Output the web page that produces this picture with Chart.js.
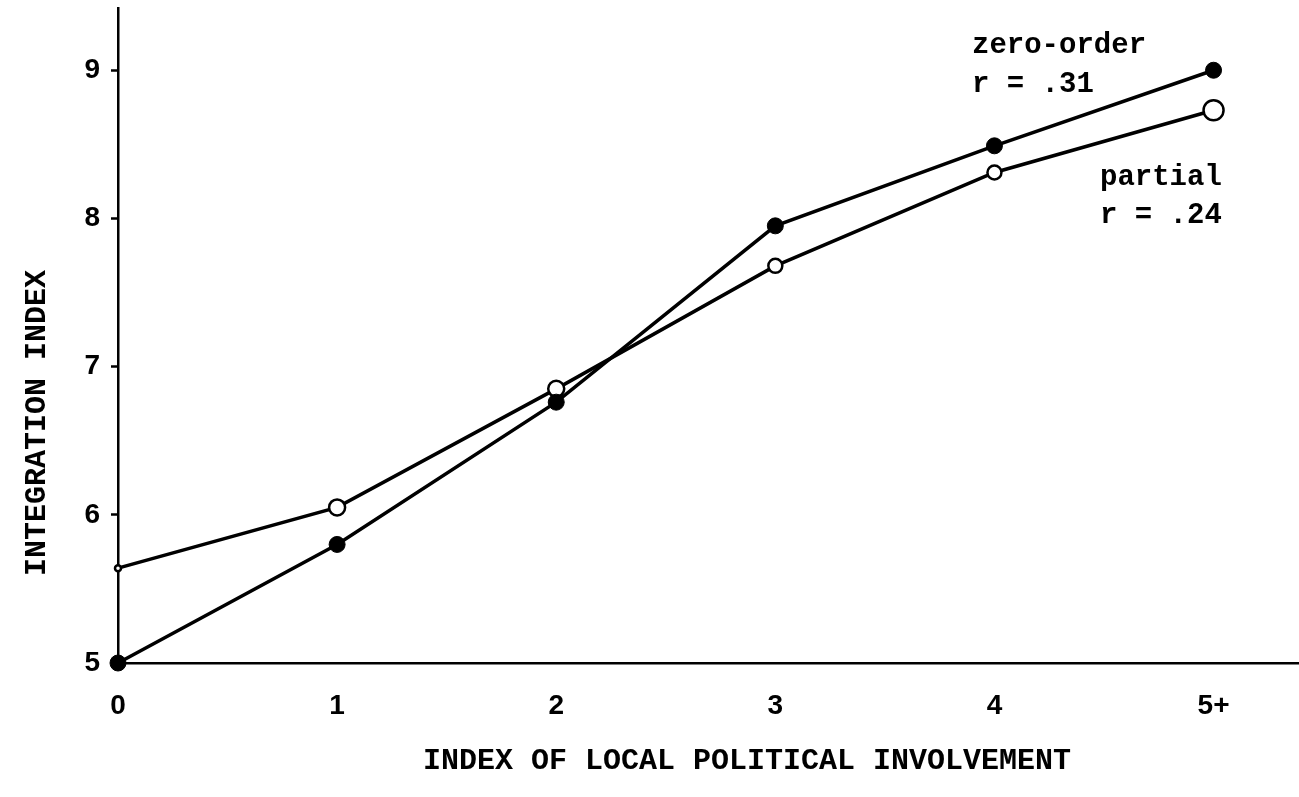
<!DOCTYPE html>
<html>
<head>
<meta charset="utf-8">
<script src="https://cdn.jsdelivr.net/npm/chart.js@4.4.1/dist/chart.umd.min.js"></script>
<style>
  html, body { margin: 0; padding: 0; background: #fff; }
  #wrap { width: 1299px; height: 797px; position: relative; }
</style>
</head>
<body>
<div id="wrap"><canvas id="c" width="1299" height="797"></canvas></div>
<script>
// ---- data ----
const categories = ['0', '1', '2', '3', '4', '5+'];
const zeroOrder  = [5.0, 5.8, 6.76, 7.95, 8.49, 9.0];
const partial    = [5.64, 6.05, 6.85, 7.68, 8.31, 8.73];
const yTickValues = [5, 6, 7, 8, 9];
const xTitle = 'INDEX OF LOCAL POLITICAL INVOLVEMENT';
const yTitle = 'INTEGRATION INDEX';
const zeroLabel = ['zero-order', 'r = .31'];
const partialLabel = ['partial', 'r = .24'];

const toPoints = arr => arr.map((v, i) => ({ x: i, y: v }));

const textPlugin = {
  id: 'texts',
  afterDraw(chart) {
    const ctx = chart.ctx;
    const ca = chart.chartArea;
    ctx.save();
    ctx.fillStyle = '#000';
    ctx.font = 'bold 30px "Liberation Mono", "DejaVu Sans Mono", monospace';
    // x axis title
    ctx.textAlign = 'center';
    ctx.textBaseline = 'middle';
    ctx.fillText(xTitle, ca.left + 629, ca.bottom + 98);
    // y axis title
    ctx.save();
    ctx.translate(37, ca.bottom - 240);
    ctx.rotate(-Math.PI / 2);
    ctx.fillText(yTitle, 0, 0);
    ctx.restore();
    // series annotations
    ctx.textAlign = 'left';
    ctx.textBaseline = 'alphabetic';
    ctx.font = 'bold 29px "Liberation Mono", "DejaVu Sans Mono", monospace';
    ctx.fillText(zeroLabel[0], 972, 53);
    ctx.fillText(zeroLabel[1], 972, 92);
    ctx.fillText(partialLabel[0], 1100, 185);
    ctx.fillText(partialLabel[1], 1100, 223);
    ctx.restore();
  }
};

const noPad = s => { s.paddingTop = 0; s.paddingBottom = 0; s.paddingLeft = 0; s.paddingRight = 0; };

new Chart(document.getElementById('c'), {
  type: 'line',
  data: {
    datasets: [
      {
        label: 'zero-order',
        data: toPoints(zeroOrder),
        borderColor: '#000',
        borderWidth: 3.5,
        pointRadius: 8,
        pointBackgroundColor: '#000',
        pointBorderColor: '#000',
        pointBorderWidth: 1,
        tension: 0,
        clip: false
      },
      {
        label: 'partial',
        data: toPoints(partial),
        borderColor: '#000',
        borderWidth: 3.5,
        pointRadius: [3, 8, 8, 7, 7, 10],
        pointBackgroundColor: '#fff',
        pointBorderColor: '#000',
        pointBorderWidth: 2.5,
        tension: 0,
        clip: false
      }
    ]
  },
  options: {
    responsive: false,
    animation: false,
    devicePixelRatio: 1,
    layout: { autoPadding: false, padding: { top: 8, right: 0, bottom: 0, left: 0 } },
    plugins: { legend: { display: false }, tooltip: { enabled: false } },
    scales: {
      x: {
        type: 'linear',
        min: 0,
        max: 5.39,
        position: 'bottom',
        border: { color: '#000', width: 2.5 },
        grid: { drawOnChartArea: false, drawTicks: false },
        ticks: {
          stepSize: 1,
          includeBounds: false,
          padding: 26,
          color: '#000',
          font: { family: '"Liberation Sans", Arial, sans-serif', weight: 'bold', size: 28 },
          callback: v => categories[v]
        },
        afterFit: s => { s.height = 134; noPad(s); }
      },
      y: {
        min: 5,
        max: 9.42,
        border: { color: '#000', width: 2.5 },
        grid: { drawOnChartArea: false, drawTicks: true, tickLength: 7, tickColor: '#000', tickWidth: 2.5 },
        afterBuildTicks: s => { s.ticks = yTickValues.map(v => ({ value: v })); },
        ticks: {
          includeBounds: false,
          padding: 11,
          color: '#000',
          font: { family: '"Liberation Sans", Arial, sans-serif', weight: 'bold', size: 28 }
        },
        afterFit: s => { s.width = 118; noPad(s); }
      }
    }
  },
  plugins: [textPlugin]
});
</script>
</body>
</html>
